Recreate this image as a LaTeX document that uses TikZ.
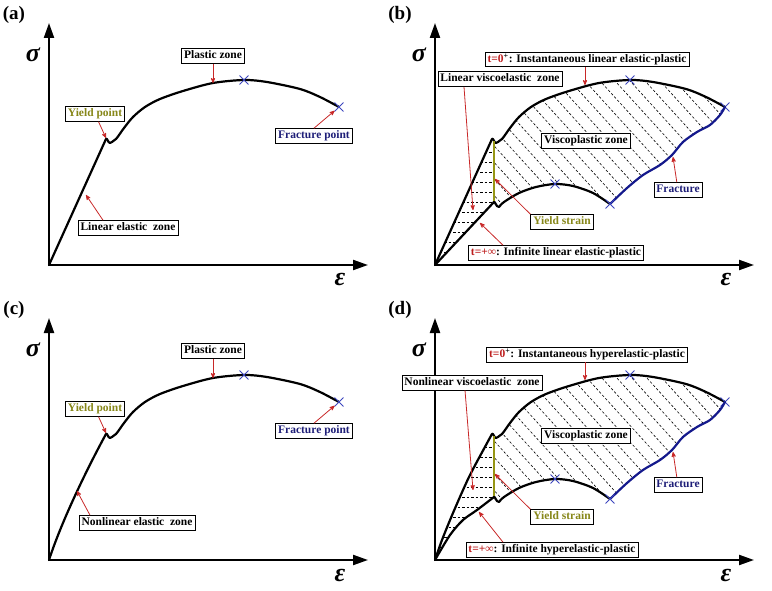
\documentclass[tikz,border=0pt]{standalone}
\usepackage{fontspec}
\setmainfont{Liberation Serif}
\usetikzlibrary{arrows,arrows.meta,shapes.misc}
\definecolor{yieldtxt}{RGB}{135,135,25}
\definecolor{yieldbar}{RGB}{150,150,20}
\definecolor{fractxt}{RGB}{30,30,120}
\definecolor{fracline}{RGB}{20,25,140}
\definecolor{xblue}{RGB}{60,70,190}
\definecolor{ptred}{RGB}{200,40,40}
\definecolor{ttxt}{RGB}{190,30,30}

\begin{document}
\begin{tikzpicture}[x=1pt,y=-1pt,>=stealth',semithick]
\tikzstyle{axis}=[line width=2.2pt,line cap=rect,-{Triangle[length=15pt,width=10pt]}]
\tikzstyle{curve}=[line width=2.2pt,line join=round,line cap=round]
\tikzstyle{fcurve}=[curve,fracline]
\tikzstyle{lab}=[draw=black,fill=white,line width=0.8pt,inner xsep=2.5pt,inner ysep=2pt,text height=8.3pt,text depth=2.5pt,font=\bfseries\fontsize{11.5}{12}\selectfont]
\tikzstyle{tag}=[font=\bfseries\fontsize{19}{20}\selectfont]
\tikzstyle{sym}=[font=\bfseries\itshape\fontsize{26}{26}\selectfont]
\tikzstyle{pointer}=[->,ptred,line width=0.8pt]
\tikzstyle{xmark}=[cross out,draw=xblue,line width=0.9pt,minimum size=8pt,inner sep=0pt]
\tikzstyle{hatch}=[line width=0.6pt,dash pattern=on 2.5pt off 2pt]
\tikzstyle{ybar}=[line width=2.8pt,yieldbar]

\useasboundingbox (0,0) rectangle (772,591);

% viscoplastic hatching in (b) and (d)
\foreach \p/\sy in {b/0,d/295}{
  \begin{scope}[shift={(386,\sy)}]
    \clip (108,141) -- plot[smooth] coordinates {(110,143) (116,139) (124,128) (133,117) (145,107) (160,99) (183,91) (213,83) (244,80) (267,82) (300,89) (320,97) (339,107)}
      -- plot[smooth] coordinates {(339,107) (334,115) (324,125) (311,132) (297,142) (286,155) (274,165) (257,175) (241,188) (224,204)}
      -- plot[smooth] coordinates {(224,204) (207,193) (187,186) (169,184) (150,187) (133,193) (118,202) (113,207)}
      -- (108,202) -- cycle;
    \foreach \c in {-30,-15,...,330} \draw[hatch] (\c,60) -- ++(150,165);
  \end{scope}
}

% viscoelastic hatching
\begin{scope}[shift={(386,0)}]
  \clip (49,265) -- (106,139) -- (108,141) -- (108,202) -- cycle;
  \foreach \y in {152,162,...,252} \draw[hatch] (40,\y) -- (110,\y);
\end{scope}
\begin{scope}[shift={(386,295)}]
  \clip plot[smooth] coordinates {(49,265) (56,245) (67,218) (83,182) (100,150) (106,139)}
    -- (108,141) -- (108,202)
    -- plot[smooth] coordinates {(108,202) (91,215) (77,225) (64,240) (49,265)} -- cycle;
  \foreach \y in {152,162,...,252} \draw[hatch] (40,\y) -- (110,\y);
\end{scope}

% axes, symbols and upper plastic branch in every panel
\foreach \p/\sx/\sy in {a/0/0,b/386/0,c/0/295,d/386/295}{
  \begin{scope}[shift={(\sx,\sy)}]
    \node[tag] (tag\p) at (14,15) {(\p)};
    \coordinate (o\p) at (49,265);
    \draw[axis] (o\p) -- (49,23);
    \draw[axis] (o\p) -- (368,265);
    \node[sym] (sig\p) at (33,55) {σ};
    \node[sym] (eps\p) at (340,280) {ε};
    \draw[curve] (106,139) .. controls (107,137) and (108,143) .. (110,143)
      -- plot[smooth] coordinates {(110,143) (116,139) (124,128) (133,117) (145,107) (160,99) (183,91) (213,83) (244,80) (267,82) (300,89) (320,97) (339,107)};
    \node[xmark] (peak\p) at (244,80) {};
    \node[xmark] (end\p) at (339,107) {};
  \end{scope}
}

% elastic-plastic curves (a), (c)
\foreach \p/\sy in {a/0,c/295}{
  \begin{scope}[shift={(0,\sy)}]
    \node[lab] (plastic\p) at (213,56) {Plastic zone};
    \coordinate (pz\p) at (213,83);
    \draw[pointer] (plastic\p) -- (pz\p);
    \node[lab,text=yieldtxt] (yield\p) at (95,114) {Yield point};
    \coordinate (yp\p) at (106,138);
    \draw[pointer] (yield\p) -- (yp\p);
    \node[lab,text=fractxt] (frac\p) at (314,136) {Fracture point};
    \draw[pointer] (frac\p.north) -- (end\p);
  \end{scope}
}
\draw[curve] (49,265) -- (106,139);
\node[lab] (elastica) at (128,228) {Linear elastic~ zone};
\coordinate (eza) at (86,195);
\draw[pointer] ([xshift=-25pt]elastica.north) -- (eza);

\begin{scope}[shift={(0,295)}]
  \draw[curve] (49,265) .. controls (62,225) and (88,172) .. (106,139);
  \node[lab] (elasticc) at (137,228) {Nonlinear elastic~ zone};
  \coordinate (ezc) at (77,196);
  \draw[pointer] ([xshift=-47pt]elasticc.north) -- (ezc);
\end{scope}

% viscoelastic-viscoplastic curves (b), (d)
\foreach \p/\sy in {b/0,d/295}{
  \begin{scope}[shift={(386,\sy)}]
    \draw[ybar] (108,141) -- (108,202);
    \draw[curve] (108,202) .. controls (109,201) and (110,207) .. (113,207)
      -- plot[smooth] coordinates {(113,207) (118,202) (133,193) (150,187) (169,184) (187,186) (207,193) (224,204)};
    \draw[fcurve] plot[smooth] coordinates {(224,204) (241,188) (257,175) (274,165) (286,155) (297,142) (311,132) (324,125) (334,115) (339,107)};
    \node[xmark] (lpeak\p) at (169,184) {};
    \node[xmark] (lend\p) at (224,204) {};
    \node[lab] (vp\p) at (200,141) {Viscoplastic zone};
    \node[lab,text=yieldtxt] (ys\p) at (176,222) {Yield strain};
    \coordinate (ysp\p) at (109,179);
    \draw[pointer] (ys\p.north west) -- (ysp\p);
    \node[lab,text=fractxt] (fr\p) at (292,190) {Fracture};
    \coordinate (frp\p) at (287,157);
    \draw[pointer] (fr\p) -- (frp\p);
    \coordinate (t0p\p) at (199,85);
  \end{scope}
}

\begin{scope}[shift={(386,0)}]
  \draw[curve] (49,265) -- (106,139);
  \draw[curve] (49,265) -- (108,202);
  \node[lab] (t0b) at (201,59.5) {\textcolor{ttxt}{t=0}\textsuperscript{+}: Instantaneous linear elastic-plastic};
  \draw[pointer] (t0b.south -| t0pb) -- (t0pb);
  \node[lab] (viscob) at (114,79) {Linear viscoelastic~ zone};
  \coordinate (vzb) at (87,210);
  \draw[pointer] ([xshift=-36pt]viscob.south) -- (vzb);
  \node[lab] (tinfb) at (170,253) {\textcolor{ttxt}{t=+∞}: Infinite linear elastic-plastic};
  \coordinate (tipb) at (94,223);
  \draw[pointer] ([xshift=-53pt]tinfb.north) -- (tipb);
\end{scope}

\begin{scope}[shift={(386,295)}]
  \draw[curve] plot[smooth] coordinates {(49,265) (56,245) (67,218) (83,182) (100,150) (106,139)};
  \draw[curve] plot[smooth] coordinates {(49,265) (64,240) (77,225) (91,215) (108,202)};
  \node[lab] (t0d) at (201,59.5) {\textcolor{ttxt}{t=0}\textsuperscript{+}: Instantaneous hyperelastic-plastic};
  \draw[pointer] (t0d.south -| t0pd) -- (t0pd);
  \node[lab] (viscod) at (86,87.5) {Nonlinear viscoelastic~ zone};
  \coordinate (vzd) at (87,195);
  \draw[pointer] ([xshift=-7pt]viscod.south) -- (vzd);
  \node[lab] (tinfd) at (166,255) {\textcolor{ttxt}{t=+∞}: Infinite hyperelastic-plastic};
  \coordinate (tipd) at (93,217);
  \draw[pointer] ([xshift=-49pt]tinfd.north) -- (tipd);
\end{scope}
\end{tikzpicture}
\end{document}
